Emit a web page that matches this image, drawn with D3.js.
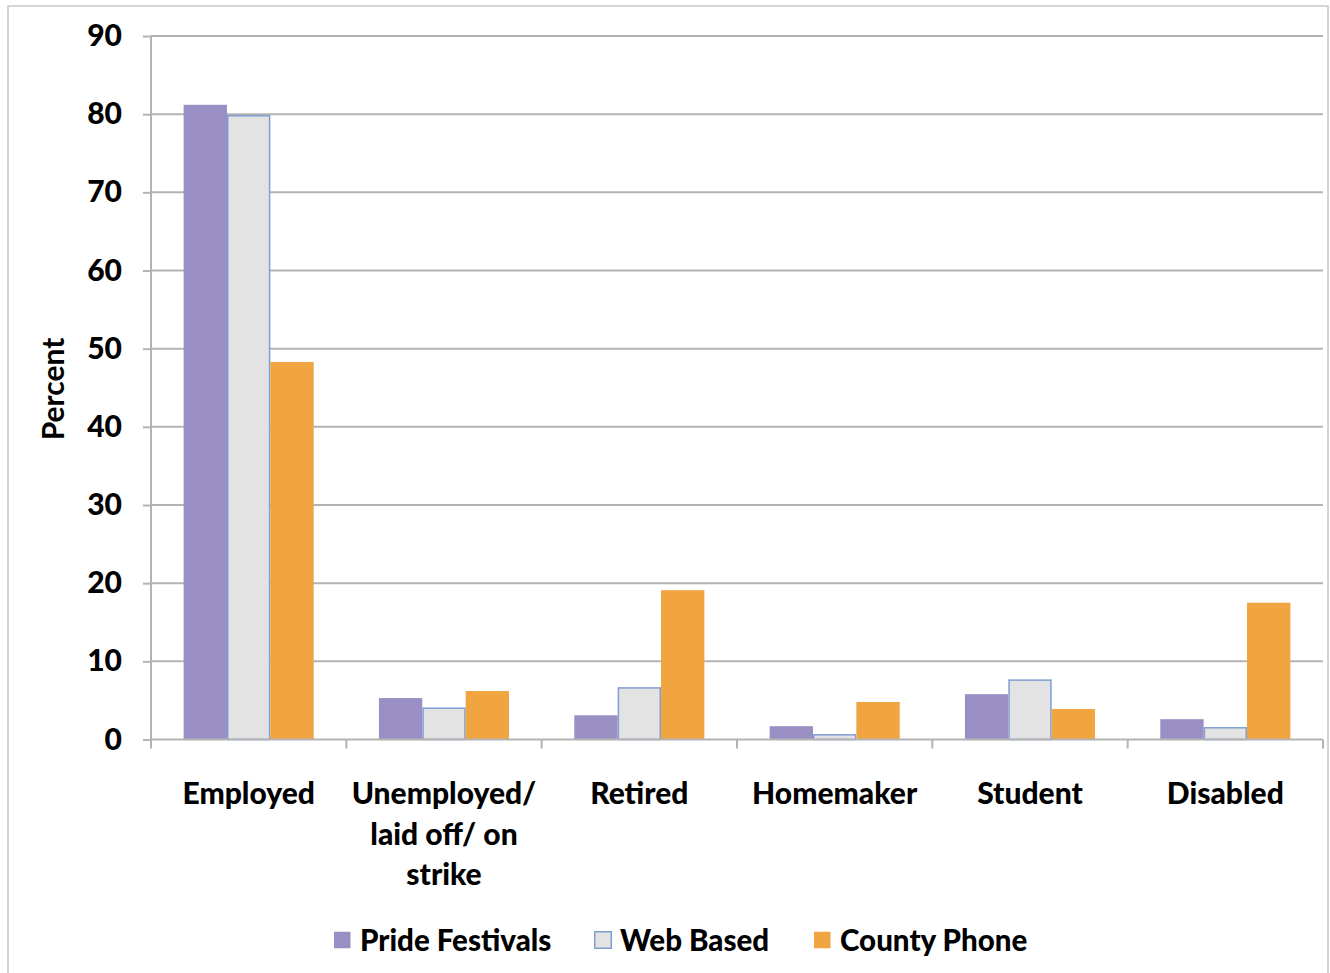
<!DOCTYPE html>
<html>
<head>
<meta charset="utf-8">
<script src="https://cdn.jsdelivr.net/npm/d3@7"></script>
<style>
  html, body { margin: 0; padding: 0; background: #fff; }
  svg { display: block; }
  text { font-family: Lato, "Open Sans", sans-serif; fill: #000; }
</style>
</head>
<body>
<script>
// Employment status by survey method (percent)
const categories = ["Employed", "Unemployed/ laid off/ on strike", "Retired", "Homemaker", "Student", "Disabled"];
const categoryLines = [["Employed"], ["Unemployed/", "laid off/ on", "strike"], ["Retired"], ["Homemaker"], ["Student"], ["Disabled"]];
const seriesNames = ["Pride Festivals", "Web Based", "County Phone"];
const prideFestivals = [81.2, 5.3, 3.1, 1.7, 5.8, 2.6];
const webBased = [79.8, 4.0, 6.6, 0.6, 7.6, 1.5];
const countyPhone = [48.3, 6.2, 19.1, 4.8, 3.9, 17.5];
const yTicks = [0, 10, 20, 30, 40, 50, 60, 70, 80, 90];

const seriesValues = [prideFestivals, webBased, countyPhone];
const fills = ["#9a8fc4", "#e3e3e3", "#f0a540"];
const strokes = ["none", "#7f9fd2", "none"];

const W = 1330, H = 973;
const plotLeft = 151, plotRight = 1323, plotTop = 36, plotBottom = 739.5;

const svg = d3.select("body").append("svg").attr("width", W).attr("height", H);

// outer frame
svg.append("rect").attr("x", 8).attr("y", 6).attr("width", W - 10).attr("height", H - 4)
  .attr("fill", "none").attr("stroke", "#d4d4d4").attr("stroke-width", 2);

const x0 = d3.scaleBand().domain(categories).range([plotLeft, plotRight]).paddingInner(0.334).paddingOuter(0.167);
const x1 = d3.scaleBand().domain(seriesNames).range([0, x0.bandwidth()]);
const y = d3.scaleLinear().domain([0, 90]).range([plotBottom, plotTop]);

// horizontal gridlines
svg.append("g").selectAll("line").data(yTicks.filter(d => d > 0)).join("line")
  .attr("x1", plotLeft).attr("x2", plotRight)
  .attr("y1", d => y(d)).attr("y2", d => y(d))
  .attr("stroke", "#b3b3b3").attr("stroke-width", 2);

// y axis
const yAxis = svg.append("g").attr("transform", `translate(${plotLeft},0)`)
  .call(d3.axisLeft(y).tickValues(yTicks).tickSize(8).tickPadding(21));
yAxis.select(".domain").attr("stroke", "#b3b3b3").attr("stroke-width", 2).attr("d", `M0,${plotTop}V${plotBottom + 8}`);
yAxis.selectAll(".tick line").attr("stroke", "#b3b3b3").attr("stroke-width", 2);
yAxis.selectAll(".tick text").style("font-family", "Lato, sans-serif")
  .style("font-size", "30px").style("font-weight", "900").attr("fill", "#000");

// bars
const groups = svg.append("g").selectAll("g").data(categories).join("g")
  .attr("transform", d => `translate(${x0(d)},0)`);
groups.selectAll("rect")
  .data((c, i) => seriesNames.map((s, k) => ({ s, k, v: seriesValues[k][i] })))
  .join("rect")
  .attr("x", d => x1(d.s) + (d.k === 1 ? 0.75 : 0))
  .attr("width", d => x1.bandwidth() - (d.k === 1 ? 1.5 : 0))
  .attr("y", d => y(d.v))
  .attr("height", d => plotBottom - y(d.v))
  .attr("fill", d => fills[d.k])
  .attr("stroke", d => strokes[d.k])
  .attr("stroke-width", 1.5);

// x axis baseline and ticks at category boundaries
const xb = svg.append("g");
xb.append("line").attr("x1", plotLeft).attr("x2", plotRight).attr("y1", plotBottom).attr("y2", plotBottom)
  .attr("stroke", "#b3b3b3").attr("stroke-width", 2);
const step = x0.step();
xb.selectAll("line.tk").data(d3.range(categories.length + 1)).join("line").attr("class", "tk")
  .attr("x1", i => plotLeft + i * step).attr("x2", i => plotLeft + i * step)
  .attr("y1", plotBottom).attr("y2", plotBottom + 9)
  .attr("stroke", "#b3b3b3").attr("stroke-width", 2);

// category labels
categories.forEach((c, i) => {
  const cx = x0(c) + x0.bandwidth() / 2;
  const t = svg.append("text").attr("text-anchor", "middle")
    .style("font-size", "30px").style("font-weight", "900");
  categoryLines[i].forEach((ln, j) => {
    t.append("tspan").attr("x", cx).attr("y", 804 + j * 40.5).text(ln);
  });
});

// y axis title
svg.append("text").attr("transform", `translate(64,389) rotate(-90)`)
  .attr("text-anchor", "middle").style("font-size", "30px").style("font-weight", "700")
  .text("Percent");

// legend
const legendItems = [
  { name: seriesNames[0], x: 334, tx: 360 },
  { name: seriesNames[1], x: 594, tx: 620 },
  { name: seriesNames[2], x: 814, tx: 840 }
];
legendItems.forEach((d, k) => {
  svg.append("rect").attr("x", d.x + (k === 1 ? 0.75 : 0)).attr("y", 931.75)
    .attr("width", 16.5).attr("height", 16.5)
    .attr("fill", fills[k]).attr("stroke", strokes[k]).attr("stroke-width", 1.5);
  svg.append("text").attr("x", d.tx).attr("y", 951)
    .style("font-size", "29.5px").style("font-weight", "900").text(d.name);
});
</script>
</body>
</html>
